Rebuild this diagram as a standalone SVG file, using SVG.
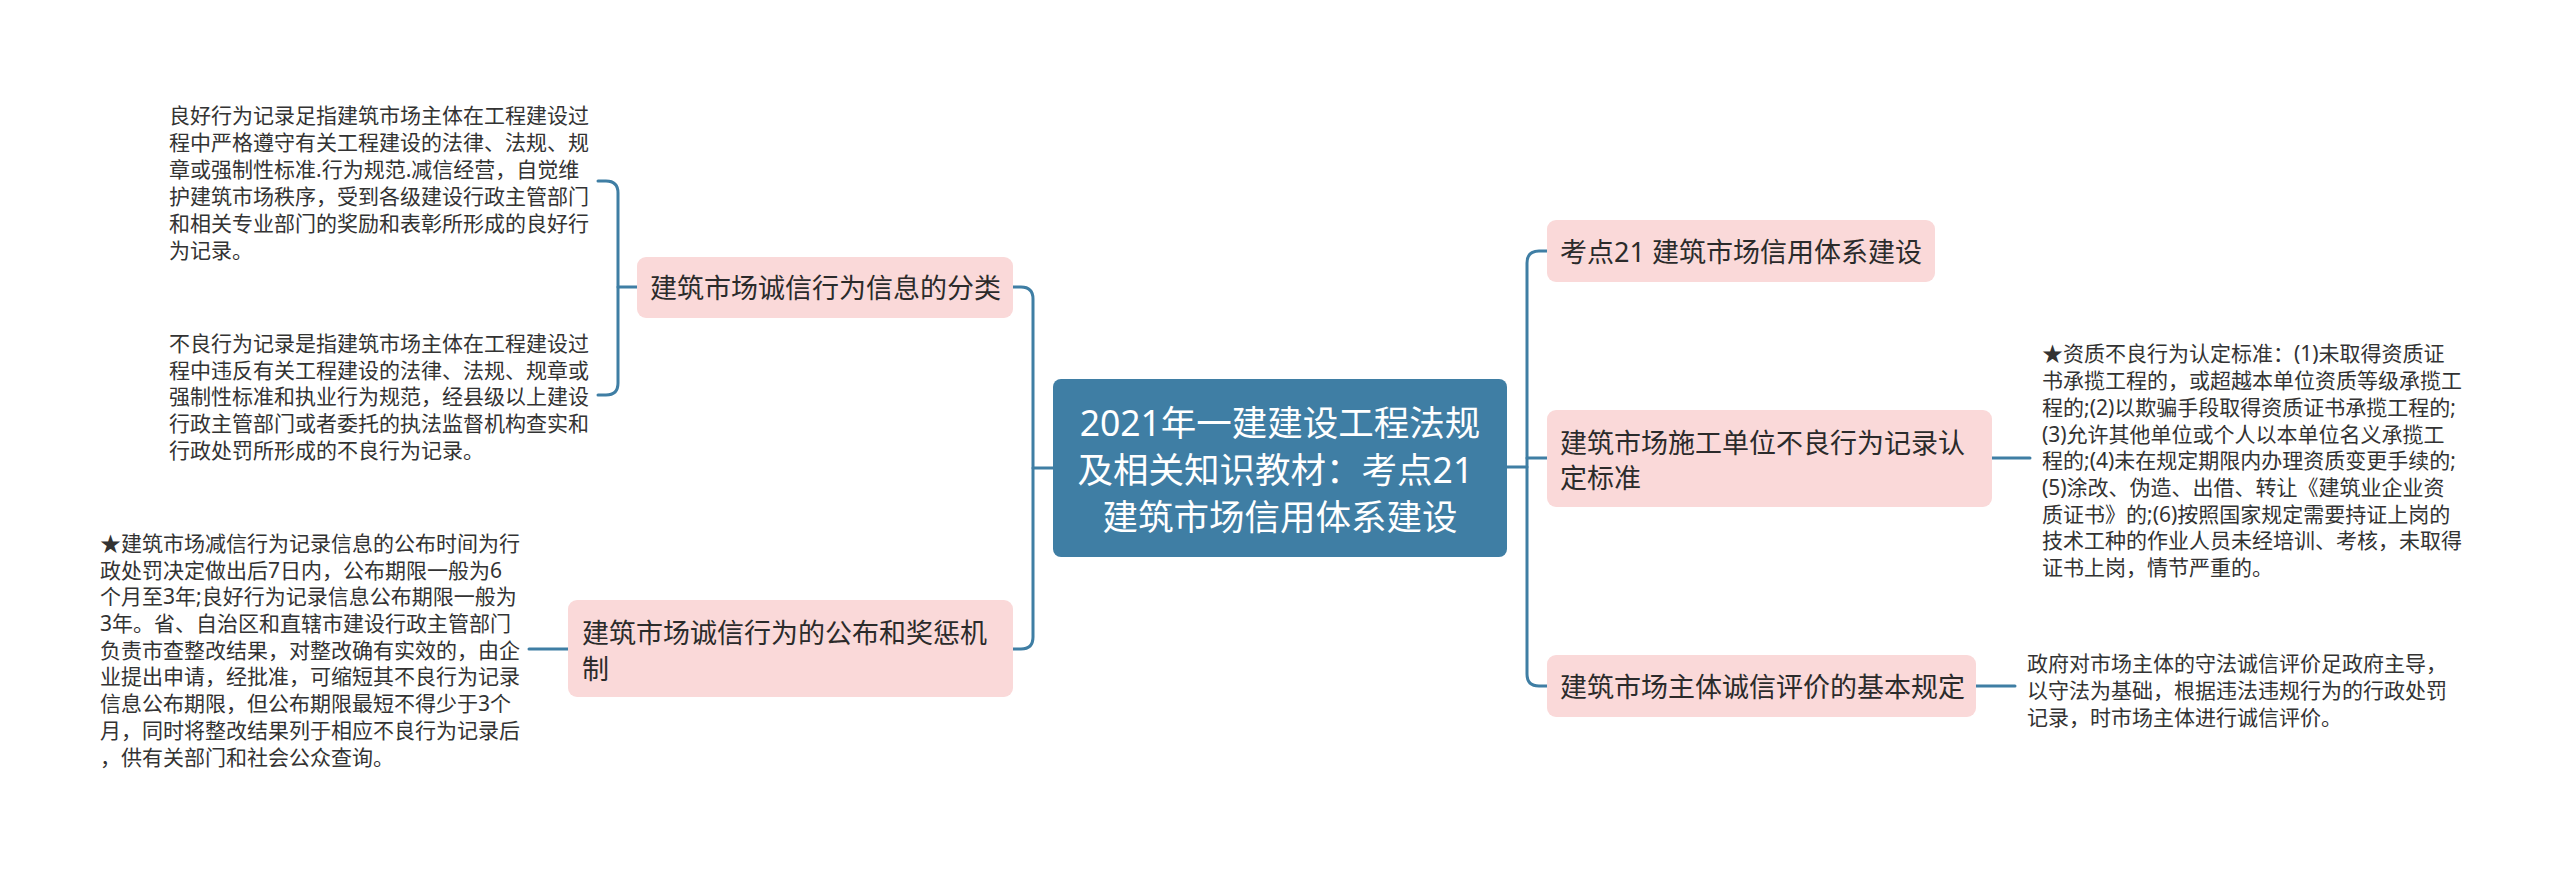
<svg xmlns="http://www.w3.org/2000/svg" width="2560" height="870" viewBox="0 0 2560 870">
<style>
text{font-family:"Noto Sans","Noto Sans CJK SC",sans-serif;dominant-baseline:central;fill:#333}
.root rect{fill:#3f7ea4}
.root text{fill:#fff;font-size:35.5px;text-anchor:middle}
.branch rect{fill:#fad9d9}
.branch text{font-size:27px;fill:#2b2b2b}
.leaf text{font-size:21px}
.conn path{fill:none;stroke:#3f7ea4;stroke-width:3;stroke-linecap:round}
</style>
<rect width="2560" height="870" fill="#fff"/>
<g class="conn">
<path d="M1053,468 H1033"/>
<path d="M1013,287 H1021 Q1033,287 1033,299 V637 Q1033,649 1021,649 H1013"/>
<path d="M598,181 H606 Q618,181 618,193 V383 Q618,395 606,395 H598"/>
<path d="M618,287 H637"/>
<path d="M529,649 H568"/>
<path d="M1507,467 H1527"/>
<path d="M1547,251 H1539 Q1527,251 1527,263 V674 Q1527,686 1539,686 H1547"/>
<path d="M1527,458 H1547"/>
<path d="M1992,458 H2030"/>
<path d="M1976,686 H2015"/>
</g>
<g id="root" class="root">
<rect x="1053" y="379" width="454" height="178" rx="8"/>
<text><tspan x="1280" y="422">2021年一建建设工程法规</tspan><tspan x="1280" y="469">及相关知识教材：考点21 </tspan><tspan x="1280" y="516">建筑市场信用体系建设</tspan></text>
</g>
<g id="b1" class="branch">
<rect x="637" y="257" width="376" height="61" rx="9"/>
<text x="650" y="287">建筑市场诚信行为信息的分类</text>
</g>
<g id="b2" class="branch">
<rect x="568" y="600" width="445" height="97" rx="9"/>
<text><tspan x="582" y="632">建筑市场诚信行为的公布和奖惩机</tspan><tspan x="582" y="668">制</tspan></text>
</g>
<g id="b3" class="branch">
<rect x="1547" y="220" width="388" height="62" rx="9"/>
<text x="1560" y="251" xml:space="preserve">考点21 建筑市场信用体系建设</text>
</g>
<g id="b4" class="branch">
<rect x="1547" y="410" width="445" height="97" rx="9"/>
<text><tspan x="1560" y="442">建筑市场施工单位不良行为记录认</tspan><tspan x="1560" y="477">定标准</tspan></text>
</g>
<g id="b5" class="branch">
<rect x="1547" y="655" width="429" height="62" rx="9"/>
<text x="1560" y="686">建筑市场主体诚信评价的基本规定</text>
</g>
<g id="l1" class="leaf">
<text><tspan x="169" y="115">良好行为记录足指建筑市场主体在工程建设过</tspan><tspan x="169" y="142">程中严格遵守有关工程建设的法律、法规、规</tspan><tspan x="169" y="169">章或强制性标准.行为规范.减信经营，自觉维</tspan><tspan x="169" y="196">护建筑市场秩序，受到各级建设行政主管部门</tspan><tspan x="169" y="223">和相关专业部门的奖励和表彰所形成的良好行</tspan><tspan x="169" y="250">为记录。</tspan></text>
</g>
<g id="l2" class="leaf">
<text><tspan x="169" y="343">不良行为记录是指建筑市场主体在工程建设过</tspan><tspan x="169" y="370">程中违反有关工程建设的法律、法规、规章或</tspan><tspan x="169" y="396">强制性标准和执业行为规范，经县级以上建设</tspan><tspan x="169" y="423">行政主管部门或者委托的执法监督机构查实和</tspan><tspan x="169" y="450">行政处罚所形成的不良行为记录。</tspan></text>
</g>
<g id="l3" class="leaf">
<text><tspan x="100" y="543">★建筑市场减信行为记录信息的公布时间为行</tspan><tspan x="100" y="570">政处罚决定做出后7日内，公布期限一般为6</tspan><tspan x="100" y="596">个月至3年;良好行为记录信息公布期限一般为</tspan><tspan x="100" y="623">3年。省、自治区和直辖市建设行政主管部门</tspan><tspan x="100" y="650">负责市查整改结果，对整改确有实效的，由企</tspan><tspan x="100" y="676">业提出申请，经批准，可缩短其不良行为记录</tspan><tspan x="100" y="703">信息公布期限，但公布期限最短不得少于3个</tspan><tspan x="100" y="730">月，同时将整改结果列于相应不良行为记录后</tspan><tspan x="100" y="757">，供有关部门和社会公众查询。</tspan></text>
</g>
<g id="l4" class="leaf">
<text><tspan x="2042" y="353">★资质不良行为认定标准：(1)未取得资质证</tspan><tspan x="2042" y="380">书承揽工程的，或超越本单位资质等级承揽工</tspan><tspan x="2042" y="407">程的;(2)以欺骗手段取得资质证书承揽工程的;</tspan><tspan x="2042" y="434">(3)允许其他单位或个人以本单位名义承揽工</tspan><tspan x="2042" y="460">程的;(4)未在规定期限内办理资质变更手续的;</tspan><tspan x="2042" y="487">(5)涂改、伪造、出借、转让《建筑业企业资</tspan><tspan x="2042" y="514">质证书》的;(6)按照国家规定需要持证上岗的</tspan><tspan x="2042" y="540">技术工种的作业人员未经培训、考核，未取得</tspan><tspan x="2042" y="567">证书上岗，情节严重的。</tspan></text>
</g>
<g id="l5" class="leaf">
<text><tspan x="2027" y="663">政府对市场主体的守法诚信评价足政府主导，</tspan><tspan x="2027" y="690">以守法为基础，根据违法违规行为的行政处罚</tspan><tspan x="2027" y="717">记录，时市场主体进行诚信评价。</tspan></text>
</g>
</svg>
